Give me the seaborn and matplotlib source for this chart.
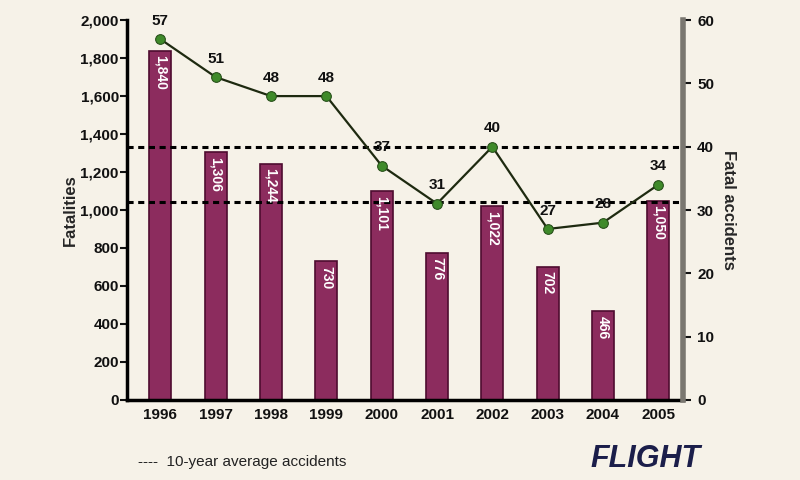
import numpy as np
import pandas as pd
import matplotlib
matplotlib.use("Agg")
import matplotlib.pyplot as plt
import seaborn as sns
from matplotlib.ticker import FuncFormatter, FixedLocator

years = ["1996", "1997", "1998", "1999", "2000", "2001", "2002", "2003", "2004", "2005"]
fatalities = [1840, 1306, 1244, 730, 1101, 776, 1022, 702, 466, 1050]
accidents = [57, 51, 48, 48, 37, 31, 40, 27, 28, 34]
avg_accidents = 40
avg_fatalities = 1040

sns.set_theme(style="white")
plt.rcParams["font.family"] = ["Liberation Sans Narrow", "Liberation Sans", "DejaVu Sans"]
plt.rcParams["font.weight"] = "bold"
plt.rcParams["text.color"] = "#111111"
plt.rcParams["xtick.color"] = "#111111"
plt.rcParams["ytick.color"] = "#111111"

bg = "#f6f2e8"
bar_col = "#8c2c5e"

df = pd.DataFrame({"year": years, "fatalities": fatalities, "accidents": accidents})
df["pos"] = np.arange(len(years))

fig = plt.figure(figsize=(8, 4.8), dpi=100, facecolor=bg)
ax = fig.add_axes([0.159, 0.167, 0.695, 0.791])
ax.set_facecolor(bg)

sns.barplot(data=df, x="year", y="fatalities", color=bar_col, width=0.4,
            saturation=1, edgecolor="#4e0c30", linewidth=1.2, ax=ax)

ax.set_ylim(0, 2000)
ax.set_xlim(-0.6, 9.45)
ax.set_yticks(range(0, 2001, 200))
ax.yaxis.set_major_formatter(FuncFormatter(lambda v, p: f"{int(v):,}"))
ax.set_ylabel("Fatalities", fontsize=12, fontweight="bold", labelpad=2)
ax.set_xlabel("")
ax.tick_params(axis="y", direction="out", length=5, width=1.5, labelsize=11, pad=1)
ax.tick_params(axis="x", length=0, labelsize=11, pad=6)
ax.xaxis.set_minor_locator(FixedLocator(np.arange(0.5, 9, 1)))
ax.tick_params(axis="x", which="minor", direction="out", length=6, width=1)
for s in ["top", "right"]:
    ax.spines[s].set_visible(False)
ax.spines["left"].set_linewidth(2.5)
ax.spines["bottom"].set_linewidth(2.5)
ax.spines["left"].set_color("black")
ax.spines["bottom"].set_color("black")

for i, v in enumerate(fatalities):
    ax.text(i, v - 25, f"{v:,}", rotation=270, ha="center", va="top",
            color="white", fontsize=10, fontweight="bold", zorder=5)

ax.axhline(avg_fatalities, color="black", linestyle=(0, (2, 1.5)), linewidth=2.2, zorder=4)

ax2 = ax.twinx()
ax2.set_ylim(0, 60)
ax2.set_yticks(range(0, 61, 10))
ax2.axhline(avg_accidents, color="black", linestyle=(0, (2, 1.5)), linewidth=2.2, zorder=1)
sns.lineplot(data=df, x="pos", y="accidents", color="#1e2a10", linewidth=1.6,
             marker="o", markersize=7, markerfacecolor="#3f8a2a",
             markeredgecolor="#254d18", ax=ax2, zorder=3)
for i, v in enumerate(accidents):
    ax2.text(i, v + 1.8, str(v), ha="center", va="bottom", fontsize=11,
             color="#111111", fontweight="bold")
ax2.set_xlabel("")
ax2.set_ylabel("Fatal accidents", fontsize=12, fontweight="bold", rotation=270, labelpad=16)
ax2.tick_params(axis="y", direction="out", length=6, width=1.5, labelsize=11, pad=4)
for s in ["top", "left", "bottom"]:
    ax2.spines[s].set_visible(False)
ax2.spines["right"].set_linewidth(4)
ax2.spines["right"].set_color("#7a7770")
ax.set_xlim(-0.6, 9.45)

fig.text(0.172, 0.037, "----  10-year average accidents", fontsize=11, color="#222222",
         ha="left", va="center", fontweight="normal")
fig.text(0.738, 0.043, "FLIGHT", fontsize=22, color="#1b1e4a", ha="left", va="center",
         fontweight="heavy", style="italic")

fig.savefig("out.png", dpi=100, facecolor=bg)
